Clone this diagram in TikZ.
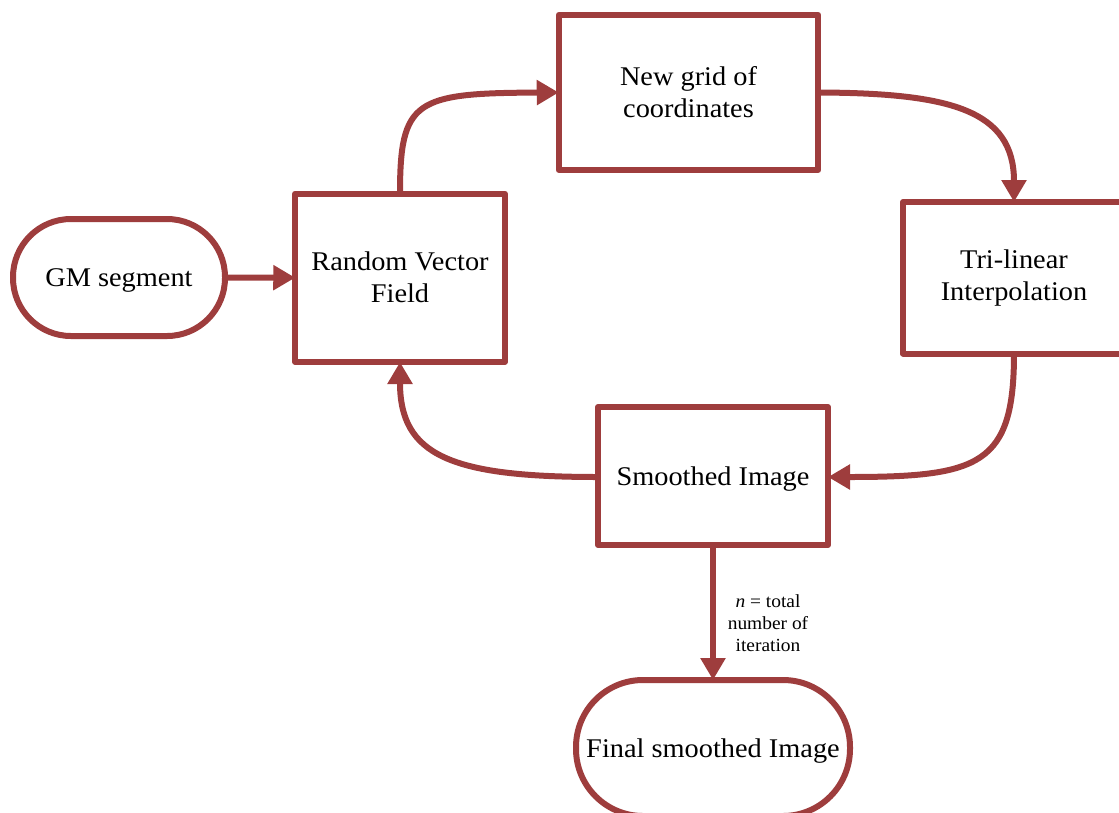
\documentclass[tikz,border=0pt]{standalone}
\usepackage{fontspec}
\setmainfont[FakeStretch=1.05]{Liberation Serif}
\usetikzlibrary{arrows.meta}
\definecolor{bord}{RGB}{158,61,61}
\begin{document}
\begin{tikzpicture}[x=1pt,y=-1pt,
  box/.style={draw=bord, line width=6pt, line join=round, fill=white, inner sep=0pt, outer sep=0pt, align=center, font=\fontsize{27}{32}\selectfont},
  oneline/.style={text depth=0pt},
  flow/.style={draw=bord, line width=6pt, -{Triangle[length=22pt,width=24pt]}},
  lbl/.style={align=center, inner sep=0pt, font=\fontsize{18.5}{22}\selectfont}
]
\useasboundingbox (0,0) rectangle (1119,812);
\clip (0,0) rectangle (1119,812);
\node[box, oneline, minimum width=212pt, minimum height=117pt, rounded corners=58pt] (gm) at (119,277.5) {GM segment};
\node[box, minimum width=209.5pt, minimum height=168.5pt] (rvf) at (400,277.75) {Random Vector\\Field};
\node[box, minimum width=259.5pt, minimum height=155pt] (grid) at (688.5,92.5) {New grid of\\coordinates};
\node[box, minimum width=222pt, minimum height=151.5pt] (tri) at (1014,277.75) {Tri-linear\\Interpolation};
\node[box, oneline, minimum width=230pt, minimum height=138pt] (smooth) at (713,476) {Smoothed Image};
\node[box, oneline, minimum width=274pt, minimum height=136pt, rounded corners=67pt] (final) at (713,748) {Final smoothed Image};
\node[lbl] (iter) at (768,623) {\textit{n} = total\\number of\\iteration};
\draw[flow] (gm) -- (rvf);
\draw[flow] (rvf.north) .. controls (400,100) and (415,93) .. (grid.west);
\draw[flow] (grid.east) .. controls (950,93) and (1014,110) .. (tri.north);
\draw[flow] (tri.south) .. controls (1014,465) and (980,477) .. ([yshift=-1pt]smooth.east);
\draw[flow] ([yshift=-1pt]smooth.west) .. controls (450,477) and (400,455) .. (rvf.south);
\draw[flow] (smooth.south) -- (final.north);
\end{tikzpicture}
\end{document}
